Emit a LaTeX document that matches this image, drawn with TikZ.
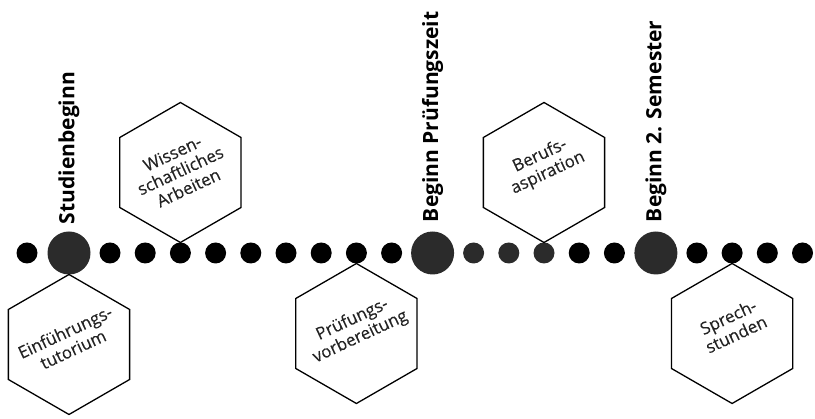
\documentclass[tikz,border=0pt]{standalone}
\usepackage{fontspec}
\setmainfont{Open Sans}
\newfontfamily\hexfont[FakeBold=0.3]{Open Sans}
\usetikzlibrary{shapes.geometric}
\definecolor{darkdot}{RGB}{43,43,43}
\definecolor{hextext}{RGB}{35,35,35}
\begin{document}
\begin{tikzpicture}[x=1pt, y=1pt, node distance={35.2pt},
    sdot/.style = {fill=black, circle, inner sep=0pt, minimum size=21pt},
    gdot/.style = {sdot, fill=darkdot},
    bdot/.style = {fill=darkdot, circle, inner sep=0pt, minimum size=43pt},
    hexa/.style = {draw, line width=1.3pt, regular polygon, regular polygon sides=6, minimum size=140pt, inner sep=0pt, shape border rotate=30},
    hextxt/.style = {rotate=25, align=center, inner sep=0pt, text=hextext, font=\hexfont\fontsize{17}{19}\selectfont},
    phase/.style = {rotate=90, anchor=west, inner sep=0pt, font=\bfseries\fontsize{21}{25}\selectfont}]
    \useasboundingbox (0,0) rectangle (815,419);
    \node[sdot] (1) at (27,166) {};
    \node[bdot] (2) [node distance=42pt, right of=1] {};
    \node[sdot] (3) [node distance=41pt, right of=2] {};
    \node[sdot] (4) [right of=3] {};
    \node[sdot] (5) [right of=4] {};
    \node[sdot] (6) [right of=5] {};
    \node[sdot] (7) [right of=6] {};
    \node[sdot] (8) [right of=7] {};
    \node[sdot] (9) [right of=8] {};
    \node[sdot] (10) [right of=9] {};
    \node[sdot] (11) [right of=10] {};
    \node[bdot] (12) [node distance=41pt, right of=11] {};
    \node[gdot] (13) [node distance=41pt, right of=12] {};
    \node[gdot] (14) [right of=13] {};
    \node[gdot] (15) [right of=14] {};
    \node[sdot] (16) [right of=15] {};
    \node[sdot] (17) [right of=16] {};
    \node[bdot] (18) [node distance=41.5pt, right of=17] {};
    \node[sdot] (19) [node distance=41pt, right of=18] {};
    \node[sdot] (20) [right of=19] {};
    \node[sdot] (21) [right of=20] {};
    \node[sdot] (22) [right of=21] {};
    % phases
    \node[phase] (l1) at ([yshift=7pt]2.north) {Studienbeginn};
    \node[phase] (l2) at ([yshift=9pt]12.north) {Beginn Prüfungszeit};
    \node[phase] (l3) at ([yshift=9pt]18.north) {Beginn 2. Semester};
    % hexagons
    \node[hexa] (h1) at ([yshift=-91.5pt]2.center) {};
    \node[hexa] (h2) at ([yshift=80.5pt]5.center) {};
    \node[hexa] (h3) at ([yshift=-80.5pt]10.center) {};
    \node[hexa] (h4) at ([yshift=80.5pt]15.center) {};
    \node[hexa] (h5) at ([yshift=-80.5pt]20.center) {};
    \node[hextxt] (t1) at ([yshift=4pt]h1.center) {Einführungs-\\tutorium};
    \node[hextxt] (t2) at ([yshift=2pt]h2.center) {Wissen-\\schaftliches\\Arbeiten};
    \node[hextxt] (t3) at ([yshift=5pt]h3.center) {Prüfungs-\\vorbereitung};
    \node[hextxt] (t4) at ([yshift=8pt]h4.center) {Berufs-\\aspiration};
    \node[hextxt] (t5) at ([yshift=8pt]h5.center) {Sprech-\\stunden};
  \end{tikzpicture}
\end{document}
